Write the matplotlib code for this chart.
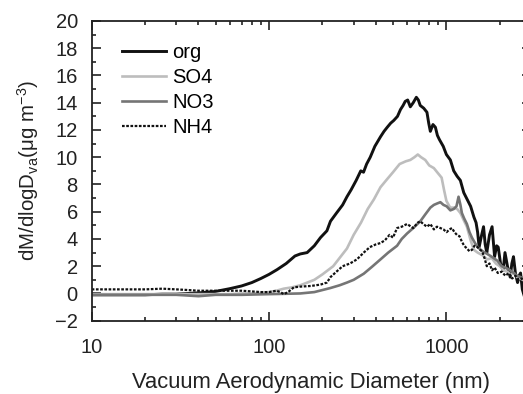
import matplotlib
matplotlib.use("Agg")
import matplotlib.pyplot as plt
from matplotlib.ticker import LogLocator, MultipleLocator, NullFormatter, FixedLocator, FixedFormatter

plt.rcParams["font.family"] = ["Liberation Sans", "DejaVu Sans"]
plt.rcParams["mathtext.fontset"] = "custom"
plt.rcParams["mathtext.rm"] = "Liberation Sans"
plt.rcParams["mathtext.it"] = "Liberation Sans:italic"

# Mass size distributions (dM/dlogDva, ug m^-3) vs vacuum aerodynamic diameter (nm)
org_d = [10, 12, 15, 20, 25, 30, 35, 41, 50, 60, 70, 80, 90, 100, 111, 125, 140, 150,
         164, 180, 195, 212, 222, 240, 260, 275, 290, 310, 329, 341, 355, 372, 395, 425,
         445, 464, 485, 505, 530, 551, 570, 586, 605, 626, 650, 677, 695, 712, 745, 777,
         795, 812, 840, 867, 890, 913, 960, 1000, 1053, 1100, 1150, 1199, 1253, 1310, 1370,
         1430, 1470, 1500, 1530, 1575, 1620, 1655, 1690, 1750, 1810, 1870, 1920, 1960, 2020,
         2090, 2140, 2210, 2290, 2340, 2390, 2450, 2520, 2570, 2620, 2680, 2750]
org_v = [-0.1, -0.1, -0.1, -0.1, -0.05, -0.05, 0.0, 0.05, 0.15, 0.35, 0.55, 0.8, 1.1, 1.4,
         1.75, 2.2, 2.75, 2.9, 3.0, 3.5, 4.1, 4.6, 5.3, 5.9, 6.5, 7.1, 7.6, 8.3, 9.0, 8.9,
         9.5, 10.0, 10.8, 11.5, 11.9, 12.2, 12.5, 12.7, 13.0, 13.5, 13.8, 14.1, 14.2, 13.7,
         14.0, 14.4, 14.2, 13.8, 13.6, 13.3, 12.5, 11.9, 12.4, 12.2, 11.6, 11.3, 10.8, 10.2,
         9.8, 9.0, 8.6, 8.3, 7.4, 6.9, 6.4, 5.6, 5.2, 4.5, 3.4, 4.2, 4.9, 3.6, 3.0, 4.3,
         4.9, 2.7, 3.5, 3.4, 2.2, 1.7, 3.0, 2.0, 1.2, 2.2, 2.7, 1.5, 0.8, 1.3, 1.5, 0.3, -0.2]

so4_d = [10, 15, 20, 30, 40, 50, 60, 70, 80, 90, 100, 110, 121, 135, 150, 180, 200, 230,
         275, 300, 330, 360, 390, 425, 464, 500, 545, 590, 626, 660, 690, 720, 760, 800,
         850, 900, 940, 970, 1000, 1050, 1100, 1150, 1200, 1250, 1305, 1370, 1430, 1500,
         1600, 1700, 1800, 1900, 2000, 2100, 2200, 2300, 2400, 2500, 2600, 2700]
so4_v = [-0.05, -0.05, -0.05, -0.05, -0.05, -0.05, -0.05, 0.0, 0.0, 0.05, 0.1, 0.2, 0.35,
         0.45, 0.6, 1.0, 1.4, 2.0, 3.3, 4.3, 5.2, 6.2, 6.9, 7.8, 8.4, 8.9, 9.5, 9.7, 9.8,
         10.0, 10.2, 10.0, 9.8, 9.4, 9.2, 8.8, 8.5, 7.6, 6.8, 6.3, 6.3, 6.2, 5.9, 5.4, 4.9,
         3.9, 3.2, 3.0, 2.8, 2.5, 2.6, 2.2, 2.0, 1.7, 1.6, 1.4, 1.5, 1.2, 1.1, 1.0]

no3_d = [10, 20, 30, 40, 50, 70, 100, 150, 180, 222, 250, 275, 300, 342, 380, 425, 470,
         527, 560, 600, 650, 713, 760, 812, 850, 885, 925, 963, 1003, 1053, 1100, 1140,
         1171, 1200, 1223, 1260, 1305, 1350, 1393, 1450, 1500, 1600, 1700, 1800, 1940,
         2050, 2150, 2290, 2400, 2500, 2620, 2750]
no3_v = [-0.1, -0.1, -0.1, -0.2, -0.1, -0.1, -0.05, 0.0, 0.1, 0.4, 0.6, 0.8, 1.0, 1.45,
         1.95, 2.5, 3.0, 3.5, 4.0, 4.4, 4.8, 5.3, 5.8, 6.3, 6.5, 6.6, 6.7, 6.5, 6.4, 6.1,
         6.2, 6.4, 7.1, 6.5, 5.9, 5.5, 5.1, 4.5, 4.1, 3.7, 3.4, 3.1, 2.9, 2.7, 2.4, 2.0,
         1.9, 1.7, 1.5, 1.3, 1.2, 1.1]

nh4_d = [10, 15, 20, 25, 30, 35, 40, 50, 60, 70, 80, 90, 100, 110, 116, 121, 128, 138,
         150, 172, 195, 212, 222, 240, 260, 286, 313, 342, 370, 400, 425, 450, 478, 500,
         527, 560, 600, 650, 690, 713, 740, 777, 812, 850, 885, 925, 963, 1003, 1040, 1075,
         1110, 1147, 1185, 1223, 1260, 1305, 1350, 1393, 1440, 1500, 1550, 1590, 1640, 1690,
         1750, 1810, 1870, 1950, 2050, 2150, 2250, 2350, 2450, 2550, 2650, 2750]
nh4_v = [0.3, 0.3, 0.3, 0.35, 0.3, 0.25, 0.2, 0.2, 0.2, 0.2, 0.15, 0.1, 0.1, 0.2, 0.1,
         -0.05, 0.1, 0.45, 0.5, 0.55, 0.65, 0.8, 1.2, 1.6, 2.0, 2.2, 2.5, 3.0, 3.4, 3.6, 3.7,
         3.9, 4.3, 4.1, 4.8, 4.9, 5.1, 4.8, 5.2, 5.3, 5.1, 4.9, 5.1, 4.7, 4.9, 4.8, 4.7, 4.5,
         4.7, 4.8, 4.5, 4.3, 4.2, 3.8, 3.5, 3.3, 3.1, 3.2, 3.5, 3.4, 3.2, 3.1, 2.6, 2.0, 2.2,
         1.7, 1.9, 1.5, 1.6, 1.3, 1.5, 1.1, 1.3, 1.0, 1.1, 0.9]

x_ticks = [10, 100, 1000]
x_tick_labels = ["10", "100", "1000"]

fig = plt.figure(figsize=(5.23, 3.94), dpi=100)
# the plot frame runs past the right edge of the figure
ax = fig.add_axes([91.7 / 523, 1 - 320.7 / 394, (531 - 91.7) / 523, (320.7 - 21) / 394])

ax.plot(org_d, org_v, color="#111111", lw=2.1, label="org")
ax.plot(so4_d, so4_v, color="#bdbdbd", lw=1.9, label="SO4")
ax.plot(no3_d, no3_v, color="#757575", lw=1.9, label="NO3")
ax.plot(nh4_d, nh4_v, color="#111111", lw=1.6, ls=(0, (1.2, 0.7)), label="NH4")

ax.set_xscale("log")
ax.set_xlim(10, 3000)
ax.set_ylim(-2, 20)
ax.xaxis.set_major_locator(FixedLocator(x_ticks))
ax.xaxis.set_major_formatter(FixedFormatter(x_tick_labels))
ax.xaxis.set_minor_locator(LogLocator(base=10, subs=range(2, 10)))
ax.xaxis.set_minor_formatter(NullFormatter())
ax.yaxis.set_major_locator(MultipleLocator(2))
ax.yaxis.set_minor_locator(MultipleLocator(1))

ax.tick_params(which="both", direction="in", top=True, right=True, width=1.2,
               labelsize=14.5, color="#222222", labelcolor="#222222")
ax.tick_params(which="major", length=6.5)
ax.tick_params(which="minor", length=3)
ax.tick_params(axis="x", pad=12.5)
ax.tick_params(axis="y", pad=10)
for s in ax.spines.values():
    s.set_linewidth(1.3)
    s.set_color("#222222")

ax.set_xlabel("Vacuum Aerodynamic Diameter (nm)", fontsize=15.8, labelpad=11, color="#222222")
ax.set_ylabel(r"dM/dlogD$_{\rm va}$(μg m$^{-3}$)", fontsize=14.8, labelpad=10, color="#222222")

ax.legend(loc="upper left", bbox_to_anchor=(0.068, 0.927), frameon=False, fontsize=14.5,
          handlelength=2.2, handletextpad=0.3, labelspacing=0.3, borderpad=0,
          borderaxespad=0)

fig.savefig("out.png", dpi=100)
